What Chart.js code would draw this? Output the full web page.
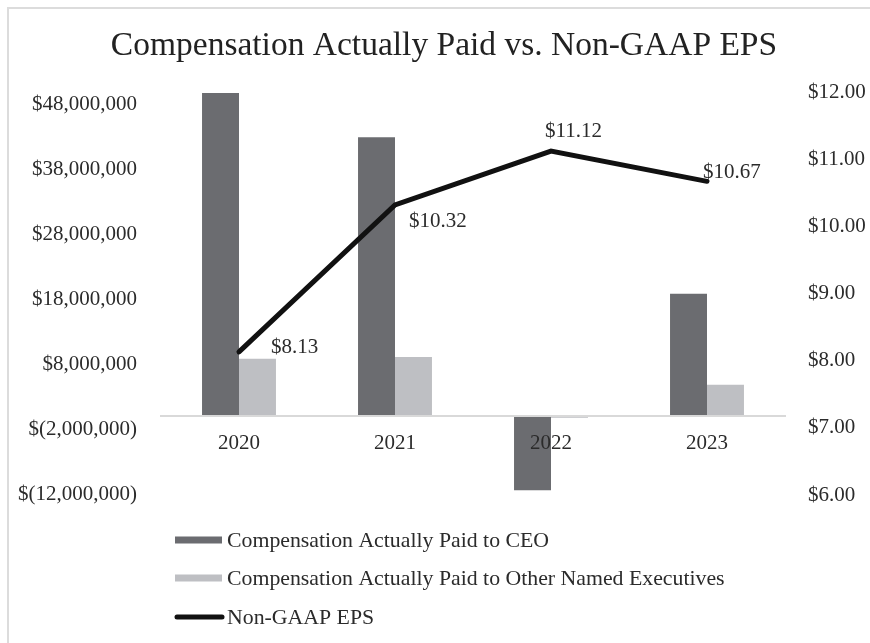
<!DOCTYPE html>
<html>
<head>
<meta charset="utf-8">
<script src="https://cdn.jsdelivr.net/npm/chart.js@4.4.1/dist/chart.umd.min.js"></script>
<style>
  html, body { margin: 0; padding: 0; background: #ffffff; }
  #wrap { width: 870px; height: 643px; position: relative; }
</style>
</head>
<body>
<div id="wrap"><canvas id="c" width="870" height="643"></canvas></div>
<script>
// ---- data ----
const chartTitle = 'Compensation Actually Paid vs. Non-GAAP EPS';
const years = ['2020', '2021', '2022', '2023'];
const ceoLabel = 'Compensation Actually Paid to CEO';
const neoLabel = 'Compensation Actually Paid to Other Named Executives';
const epsLabel = 'Non-GAAP EPS';
const ceoPay = [49700000, 42900000, -11400000, 18800000];
const neoPay = [8800000, 9100000, -250000, 4800000];
const eps = [8.13, 10.32, 11.12, 10.67];
const leftTicks = [-12000000, -2000000, 8000000, 18000000, 28000000, 38000000, 48000000];
const rightTicks = [6, 7, 8, 9, 10, 11, 12];

// ---- style ----
const FONT = "'Liberation Serif', 'Times New Roman', serif";
const TEXT = '#2b2b2b';
const CEO_COLOR = '#6b6c70';
const NEO_COLOR = '#bebfc3';
const LINE_COLOR = '#111111';
// label offsets (px) relative to each EPS point: [dx of text left edge, dy of text middle]
const epsLabelOffsets = [[32, -4], [14, 17], [-6, -20], [-4, -9]];

function fmtMoney(v) {
  return v < 0 ? '$(' + Math.abs(v).toLocaleString('en-US') + ')' : '$' + v.toLocaleString('en-US');
}

const decorPlugin = {
  id: 'decor',
  beforeDraw(chart) {
    const ctx = chart.ctx;
    ctx.save();
    ctx.fillStyle = '#ffffff';
    ctx.fillRect(0, 0, chart.width, chart.height);
    ctx.strokeStyle = '#dcdcdc';
    ctx.lineWidth = 2;
    ctx.beginPath();
    ctx.moveTo(8, chart.height + 5);
    ctx.lineTo(8, 8);
    ctx.lineTo(chart.width + 5, 8);
    ctx.stroke();
    // title
    ctx.fillStyle = '#222222';
    ctx.font = '33.5px ' + FONT;
    ctx.textAlign = 'center';
    ctx.textBaseline = 'middle';
    ctx.fillText(chartTitle, 444, 46);
    ctx.restore();
  },
  afterDraw(chart) {
    const ctx = chart.ctx;
    ctx.save();
    // data labels for EPS line
    const meta = chart.getDatasetMeta(2);
    ctx.font = '21px ' + FONT;
    ctx.fillStyle = TEXT;
    ctx.textAlign = 'left';
    ctx.textBaseline = 'middle';
    meta.data.forEach((pt, i) => {
      const off = epsLabelOffsets[i];
      ctx.fillText('$' + eps[i].toFixed(2), pt.x + off[0], pt.y + off[1]);
    });
    // legend (vertical list)
    const rows = [540, 578, 617];
    const lx = 175, lw = 47;
    chart.data.datasets.forEach((ds, i) => {
      const y = rows[i];
      if (ds.type === 'line') {
        ctx.strokeStyle = ds.borderColor;
        ctx.lineWidth = 5;
        ctx.lineCap = 'round';
        ctx.beginPath();
        ctx.moveTo(lx + 2, y);
        ctx.lineTo(lx + lw, y);
        ctx.stroke();
      } else {
        ctx.fillStyle = ds.backgroundColor;
        ctx.fillRect(lx, y - 3.5, lw, 7);
      }
      ctx.fillStyle = TEXT;
      ctx.font = '21.8px ' + FONT;
      ctx.textAlign = 'left';
      ctx.textBaseline = 'middle';
      ctx.fillText(ds.label, lx + lw + 5, y + 1);
    });
    ctx.restore();
  }
};

new Chart(document.getElementById('c'), {
  data: {
    labels: years,
    datasets: [
      { type: 'bar', label: ceoLabel, data: ceoPay, backgroundColor: CEO_COLOR, yAxisID: 'y', order: 1,
        categoryPercentage: 0.474, barPercentage: 1.0 },
      { type: 'bar', label: neoLabel, data: neoPay, backgroundColor: NEO_COLOR, yAxisID: 'y', order: 1,
        categoryPercentage: 0.474, barPercentage: 1.0 },
      { type: 'line', label: epsLabel, data: eps, borderColor: LINE_COLOR, backgroundColor: LINE_COLOR,
        borderWidth: 5, pointRadius: 0, tension: 0, borderCapStyle: 'round', yAxisID: 'y1', order: 0 }
    ]
  },
  options: {
    responsive: false,
    animation: false,
    layout: { padding: { left: 0, right: 0, top: 92, bottom: 148 } },
    plugins: { legend: { display: false }, title: { display: false }, tooltip: { enabled: false } },
    scales: {
      x: {
        position: { y: 0 },
        grid: { display: false, drawTicks: false },
        border: { display: true, color: '#d9d9d9', width: 2, z: 1 },
        ticks: { color: TEXT, font: { family: FONT, size: 21 }, padding: 15, z: 1 },
        afterFit(s) { s.height = 0; }
      },
      y: {
        position: 'left',
        min: -12150000,
        max: 49850000,
        grid: { display: false, drawTicks: false },
        border: { display: false },
        afterBuildTicks(s) { s.ticks = leftTicks.map(v => ({ value: v })); },
        ticks: { color: TEXT, font: { family: FONT, size: 21 }, padding: 24, callback: (v) => fmtMoney(v) },
        afterFit(s) { s.width = 161; }
      },
      y1: {
        position: 'right',
        min: 6,
        max: 12,
        grid: { display: false, drawTicks: false },
        border: { display: false },
        afterBuildTicks(s) { s.ticks = rightTicks.map(v => ({ value: v })); },
        ticks: { color: TEXT, font: { family: FONT, size: 21 }, padding: 23, callback: (v) => '$' + Number(v).toFixed(2) },
        afterFit(s) { s.width = 85; }
      }
    }
  },
  plugins: [decorPlugin]
});
</script>
</body>
</html>
